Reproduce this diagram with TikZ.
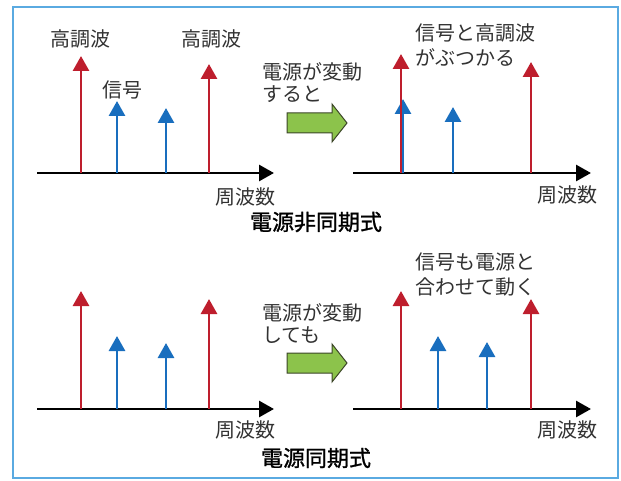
\documentclass[tikz,border=0pt]{standalone}
\usepackage{fontspec}
\setmainfont{Noto Sans CJK JP}
\newfontfamily\capfont{Noto Sans CJK JP}[FakeBold=1.2]
\usetikzlibrary{arrows.meta}
\definecolor{frm}{RGB}{90,170,225}
\definecolor{hr}{RGB}{190,30,45}
\definecolor{sb}{RGB}{25,110,190}
\definecolor{gfill}{RGB}{140,195,75}
\definecolor{gline}{RGB}{60,70,40}
\definecolor{txt}{RGB}{50,50,50}
\tikzset{
  stemr/.style={draw=hr,line width=2.8pt,-{Triangle[length=15pt,width=16pt]}},
  stemb/.style={draw=sb,line width=2.8pt,-{Triangle[length=15pt,width=16pt]}},
  axis/.style={draw=black,line width=2.8pt,-{Triangle[length=15pt,width=16pt]}},
  lbl/.style={inner sep=0pt,text=txt,font=\fontsize{20}{24}\selectfont},
  captext/.style={inner sep=0pt,text=black,font=\fontsize{22}{24}\selectfont\capfont},
  ml/.style={lbl,align=left,anchor=west,font=\fontsize{20}{25}\selectfont},
  mlm/.style={lbl,align=left,anchor=west,font=\fontsize{20}{21.5}\selectfont},
  garrow/.style={fill=gfill,draw=gline,line width=1pt}
}
\begin{document}
\begin{tikzpicture}[x=1pt,y=-1pt]
\useasboundingbox (0,0) rectangle (621,481);
\draw[frm,line width=1.2pt] (13,7) rectangle (618,478);
% top-left
\coordinate (tla0) at (37,173); \coordinate (tla1) at (274,173);
\draw[axis] (tla0) -- (tla1);
\coordinate (t1b) at (81,173); \coordinate (t1t) at (81,56);
\coordinate (t2b) at (117,173); \coordinate (t2t) at (117,101);
\coordinate (t3b) at (166,173); \coordinate (t3t) at (166,108);
\coordinate (t4b) at (209,173); \coordinate (t4t) at (209,64);
\draw[stemr] (t1b) -- (t1t);
\draw[stemb] (t2b) -- (t2t);
\draw[stemb] (t3b) -- (t3t);
\draw[stemr] (t4b) -- (t4t);
\node[lbl] (h1) at (80,39) {高調波};
\node[lbl] (h2) at (211,39) {高調波};
\node[lbl] (s1) at (122,90) {信号};
\node[lbl] (f1) at (245,197) {周波数};
% top-right
\coordinate (tra0) at (353,173); \coordinate (tra1) at (591,173);
\draw[axis] (tra0) -- (tra1);
\coordinate (u2b) at (403,173); \coordinate (u2t) at (403,99);
\coordinate (u1b) at (401,173); \coordinate (u1t) at (401,54);
\coordinate (u3b) at (453,173); \coordinate (u3t) at (453,107);
\coordinate (u4b) at (531,173); \coordinate (u4t) at (531,62);
\draw[stemb] (u2b) -- (u2t);
\draw[stemr] (u1b) -- (u1t);
\draw[stemb] (u3b) -- (u3t);
\draw[stemr] (u4b) -- (u4t);
\node[ml] (n1) at (415,45) {信号と高調波\\がぶつかる};
\node[lbl] (f2) at (567,195) {周波数};
% middle arrow top
\node[mlm] (m1) at (262,82.5) {電源が変動\\すると};
\draw[garrow] (287,113) -- (332,113) -- (332,104) -- (347,123) -- (332,142) -- (332,133) -- (287,133) -- cycle;
\node[captext] (c1) at (316,222) {電源非同期式};
% bottom-left
\coordinate (bla0) at (37,409); \coordinate (bla1) at (274,409);
\draw[axis] (bla0) -- (bla1);
\coordinate (b1b) at (81,409); \coordinate (b1t) at (81,291);
\coordinate (b2b) at (117,409); \coordinate (b2t) at (117,336);
\coordinate (b3b) at (166,409); \coordinate (b3t) at (166,343);
\coordinate (b4b) at (209,409); \coordinate (b4t) at (209,299);
\draw[stemr] (b1b) -- (b1t);
\draw[stemb] (b2b) -- (b2t);
\draw[stemb] (b3b) -- (b3t);
\draw[stemr] (b4b) -- (b4t);
\node[lbl] (f3) at (245,430) {周波数};
% bottom-right
\coordinate (bra0) at (353,409); \coordinate (bra1) at (591,409);
\draw[axis] (bra0) -- (bra1);
\coordinate (v1b) at (401,409); \coordinate (v1t) at (401,291);
\coordinate (v2b) at (438,409); \coordinate (v2t) at (438,336);
\coordinate (v3b) at (487,409); \coordinate (v3t) at (487,342);
\coordinate (v4b) at (531,409); \coordinate (v4t) at (531,299);
\draw[stemr] (v1b) -- (v1t);
\draw[stemb] (v2b) -- (v2t);
\draw[stemb] (v3b) -- (v3t);
\draw[stemr] (v4b) -- (v4t);
\node[ml] (n2) at (415,274) {信号も電源と\\合わせて動く};
\node[lbl] (f4) at (567,430) {周波数};
% middle arrow bottom
\node[mlm] (m2) at (262,323.5) {電源が変動\\しても};
\draw[garrow] (287,353) -- (332,353) -- (332,344) -- (347,363) -- (332,382) -- (332,373) -- (287,373) -- cycle;
\node[captext] (c2) at (316,458) {電源同期式};
\end{tikzpicture}
\end{document}
